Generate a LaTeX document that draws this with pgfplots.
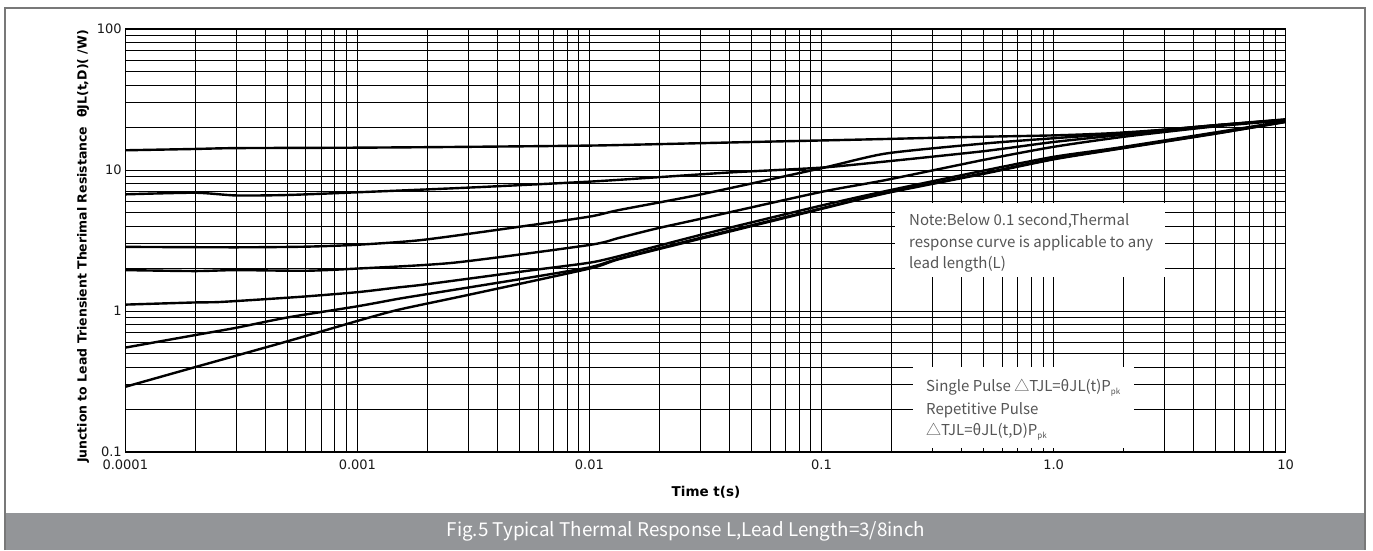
\documentclass[border=0pt]{standalone}
\usepackage{fontspec}
\setmainfont{DejaVu Sans}
\newfontfamily\cjk{Noto Sans CJK SC}
\usepackage{pgfplots}
\pgfplotsset{compat=1.18}
\definecolor{barcol}{RGB}{147,149,152}
\definecolor{notecol}{RGB}{85,85,85}
\definecolor{framecol}{RGB}{120,120,120}
\pgfplotsset{curve/.style={black, line width=2.4pt, smooth, tension=0.4, no markers}}
\begin{document}
\begin{tikzpicture}[x=1pt,y=1pt]
\path[use as bounding box] (0,0) rectangle (1373,550);
\fill[white] (0,0) rectangle (1373,550);
\begin{axis}[at={(125.3pt,98pt)}, anchor=south west, scale only axis,
  width=1160.4pt, height=423pt,
  xmode=log, ymode=log, xmin=1e-4, xmax=10, ymin=0.1, ymax=100,
  xtick={1e-4,1e-3,1e-2,1e-1,1,10},
  xticklabels={0.0001,0.001,0.01,0.1,1.0,10},
  minor xtick={2e-4,3e-4,4e-4,5e-4,6e-4,7e-4,8e-4,9e-4,
    2e-3,3e-3,4e-3,5e-3,6e-3,7e-3,8e-3,9e-3,
    0.02,0.03,0.04,0.05,0.06,0.07,0.08,0.09,
    0.2,0.3,0.4,0.5,0.6,0.7,0.8,0.9,
    2,3,4,5,6,7,8,9},
  ytick={0.1,1,10,100},
  yticklabels={0.1,1,10,100},
  minor ytick={0.2,0.3,0.4,0.5,0.6,0.7,0.8,0.9,2,3,4,5,6,7,8,9,20,30,40,50,60,70,80,90},
  grid=both,
  major grid style={black, line width=0.9pt},
  minor grid style={black, line width=0.9pt},
  major tick length=0pt, minor tick length=0pt,
  axis line style={black, line width=1.3pt},
  xticklabel style={font=\fontsize{13}{13}\selectfont, text=black!90, yshift=-4pt},
  yticklabel style={font=\fontsize{13}{13}\selectfont, text=black!90},
  clip=false,
]
\addplot[curve] coordinates {(1e-4,13.8) (2e-4,14.1) (3e-4,14.3) (1e-3,14.4) (3e-3,14.6) (0.01,14.9) (0.018,15.2) (0.05,15.8) (0.1,16.2) (0.19,16.6) (0.4,17.1) (1,17.6) (1.73,18.2) (3,19.3) (5,20.8) (10,22.9)};
\addplot[curve] coordinates {(1e-4,6.72) (2e-4,6.9) (3e-4,6.6) (5e-4,6.65) (1e-3,6.95) (3e-3,7.5) (0.01,8.27) (0.018,8.8) (0.04,9.6) (0.1,10.4) (0.19,11.5) (0.5,13.6) (1,15.8) (2,17.8) (5,20.7) (10,22.7)};
\addplot[curve] coordinates {(1e-4,2.85) (3e-4,2.83) (6e-4,2.86) (1e-3,2.95) (1.9e-3,3.19) (5e-3,3.96) (0.01,4.67) (0.0134,5.2) (0.03,6.7) (0.1,10.3) (0.19,13.1) (0.5,15.4) (1,16.8) (2,18.2) (5,20.8) (10,22.6)};
\addplot[curve] coordinates {(1e-4,1.95) (2e-4,1.92) (3e-4,1.95) (6e-4,1.93) (1e-3,2.0) (2.6e-3,2.2) (0.01,2.94) (0.0134,3.3) (0.0195,3.85) (0.03,4.5) (0.1,7.0) (0.19,8.5) (0.5,11.8) (1,14.6) (2,17.2) (5,20.4) (10,22.5)};
\addplot[curve] coordinates {(1e-4,1.11) (2e-4,1.15) (2.6e-4,1.16) (5.65e-4,1.26) (1e-3,1.36) (1.5e-3,1.47) (2e-3,1.55) (5.7e-3,1.95) (0.01,2.2) (0.0134,2.45) (0.03,3.46) (0.1,5.6) (0.19,7.1) (0.5,9.9) (1,12.4) (1.9,14.4) (5,18.5) (10,22.2)};
\addplot[curve] coordinates {(1e-4,0.55) (2e-4,0.675) (3e-4,0.76) (5e-4,0.9) (1e-3,1.08) (1.5e-3,1.22) (1.9e-3,1.3) (5e-3,1.68) (0.01,2.04) (0.0134,2.35) (0.03,3.3) (0.1,5.35) (0.19,6.9) (0.5,9.5) (1,12.0) (1.9,14.2) (5,18.2) (10,22.0)};
\addplot[curve] coordinates {(1e-4,0.29) (2e-4,0.40) (5e-4,0.61) (1e-3,0.85) (1.5e-3,1.02) (3e-3,1.3) (0.01,2.0) (0.0134,2.33) (0.03,3.25) (0.1,5.3) (0.19,6.85) (0.5,9.4) (1,11.9) (1.9,14.1) (5,18.1) (10,21.9)};
\end{axis}
% annotation boxes
\fill[white] (895,273) rectangle (1165,347);
\fill[white] (913,102) rectangle (1134,183);
\begin{scope}[every node/.style={anchor=west, inner sep=0pt, text=notecol, font=\cjk\fontsize{15}{15}\selectfont}]
\node at (909,329) {Note:Below 0.1 second,Thermal};
\node at (909,307) {response curve is applicable to any};
\node at (909,286) {lead length(L)};
\node at (926,162) {Single Pulse △TJL=θJL(t)P\raisebox{-3pt}{\fontsize{8}{8}\selectfont pk}};
\node at (926,140) {Repetitive Pulse};
\node at (926,118) {△TJL=θJL(t,D)P\raisebox{-3pt}{\fontsize{8}{8}\selectfont pk}};
\end{scope}
% axis labels
\node[rotate=90, font=\bfseries\fontsize{12.5}{12.5}\selectfont] at (83,303.5) {Junction to Lead Triensient Therimal Resistance\ \ θJL(t,D)( /W)};
\node[font=\bfseries\fontsize{13.5}{13.5}\selectfont] at (706,57.3) {Time t(s)};
% frame and caption bar
\draw[framecol, line width=1.5pt] (5,0) -- (5,542) -- (1365,542) -- (1365,0);
\fill[barcol] (6,0) rectangle (1364.2,37);
\node[text=white, font=\cjk\fontsize{18.8}{18.8}\selectfont] at (686,19) {Fig.5 Typical Thermal Response L,Lead Length=3/8inch};
\end{tikzpicture}
\end{document}
